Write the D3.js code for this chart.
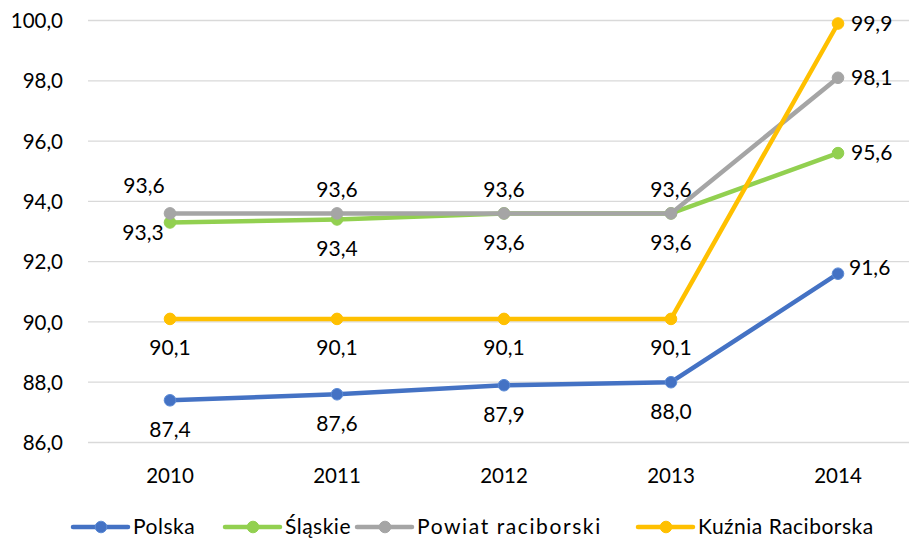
<!DOCTYPE html>
<html><head><meta charset="utf-8">
<script src="https://cdn.jsdelivr.net/npm/d3@7"></script>
<style>body{margin:0;background:#fff;} text{font-family:Lato,"Open Sans",sans-serif;fill:#000;}</style>
</head><body><svg id="c" width="909" height="543"></svg>
<script>
const years = ["2010","2011","2012","2013","2014"];
const yTicks = [86,88,90,92,94,96,98,100];
const polska = [87.4,87.6,87.9,88.0,91.6];
const slaskie = [93.3,93.4,93.6,93.6,95.6];
const powiat = [93.6,93.6,93.6,93.6,98.1];
const kuznia = [90.1,90.1,90.1,90.1,99.9];
const seriesNames = ["Polska","Śląskie","Powiat raciborski","Kuźnia Raciborska"];
const colors = ["#4472C4","#92D050","#A5A5A5","#FFC000"];
// label placement per point
const labelPos = [
  ["below","below","below","below","rightup"],
  ["left","below","below","below","right"],
  ["aboveleft","above","above","above","right"],
  ["below","below","below","below","right"]
];
const data = [polska, slaskie, powiat, kuznia];

const svg = d3.select("#c");
const x = d3.scaleBand().domain(years).range([86.5, 921.5]);
const y = d3.scaleLinear().domain([86,100]).range([442.5,20.5]);
const fmt = v => d3.format(".1f")(v).replace(".", ",");

// grid
svg.append("g").selectAll("line").data(yTicks).join("line")
  .attr("x1",88).attr("x2",909).attr("y1",d=>y(d)).attr("y2",d=>y(d))
  .attr("stroke","#D9D9D9").attr("stroke-width",1.3);

// y axis labels
const yAxis = d3.axisLeft(y).tickValues(yTicks).tickFormat(fmt).tickSize(0).tickPadding(0);
const ga = svg.append("g").attr("transform","translate(63,0)").call(yAxis);
ga.select(".domain").remove();
ga.selectAll("text").attr("font-size",20.5).attr("font-family","Lato").attr("fill","#000").attr("dy","0.35em");

const xAxis = d3.axisBottom(x).tickSize(0).tickPadding(0);
const gx = svg.append("g").attr("transform","translate(0,476)").call(xAxis);
gx.select(".domain").remove();
gx.selectAll("text").attr("font-size",20.5).attr("font-family","Lato").attr("fill","#000").attr("dy","0.35em");

const line = d3.line().x((d,i)=>x(years[i])+x.bandwidth()/2).y(d=>y(d));
const order = [0,1,2,3];
order.forEach(s=>{
  const g = svg.append("g");
  g.append("path").datum(data[s]).attr("d",line).attr("fill","none")
    .attr("stroke",colors[s]).attr("stroke-width",4.5).attr("stroke-linejoin","round");
  g.selectAll("circle").data(data[s]).join("circle")
    .attr("cx",(d,i)=>x(years[i])+x.bandwidth()/2).attr("cy",d=>y(d)).attr("r",5.8)
    .attr("fill",colors[s]).attr("stroke",s===0?"#5B8BD6":colors[s]).attr("stroke-width",1);
});
// labels
order.forEach(s=>{
  data[s].forEach((v,i)=>{
    const cx = x(years[i])+x.bandwidth()/2, cy = y(v);
    const p = labelPos[s][i];
    let tx=cx, ty=cy, anchor="middle";
    if(p==="below"){ty=cy+29;}
    else if(p==="above"){ty=cy-24;}
    else if(p==="aboveleft"){tx=cx-26;ty=cy-28;}
    else if(p==="left"){tx=cx-27;ty=cy+10;}
    else if(p==="right"){tx=cx+13;anchor="start";}
    else if(p==="rightup"){tx=cx+11;ty=cy-6;anchor="start";}
    svg.append("text").attr("x",tx).attr("y",ty).attr("dy","0.35em")
      .attr("text-anchor",anchor).attr("font-size",21).text(fmt(v));
  });
});
// legend
const legX = [73,225,357,638];
const lg = svg.append("g");
seriesNames.forEach((n,s)=>{
  const g = lg.append("g").attr("transform",`translate(${legX[s]},527)`);
  g.append("line").attr("x1",0).attr("x2",55).attr("stroke",colors[s]).attr("stroke-width",4.5).attr("stroke-linecap","round");
  g.append("circle").attr("cx",28).attr("r",5.8).attr("fill",colors[s]).attr("stroke",s===0?"#5B8BD6":colors[s]);
  g.append("text").attr("x",60).attr("dy","0.35em").attr("font-size",21)
    .attr("letter-spacing",s===2?1.6:0.5).text(n);
});
</script></body></html>
